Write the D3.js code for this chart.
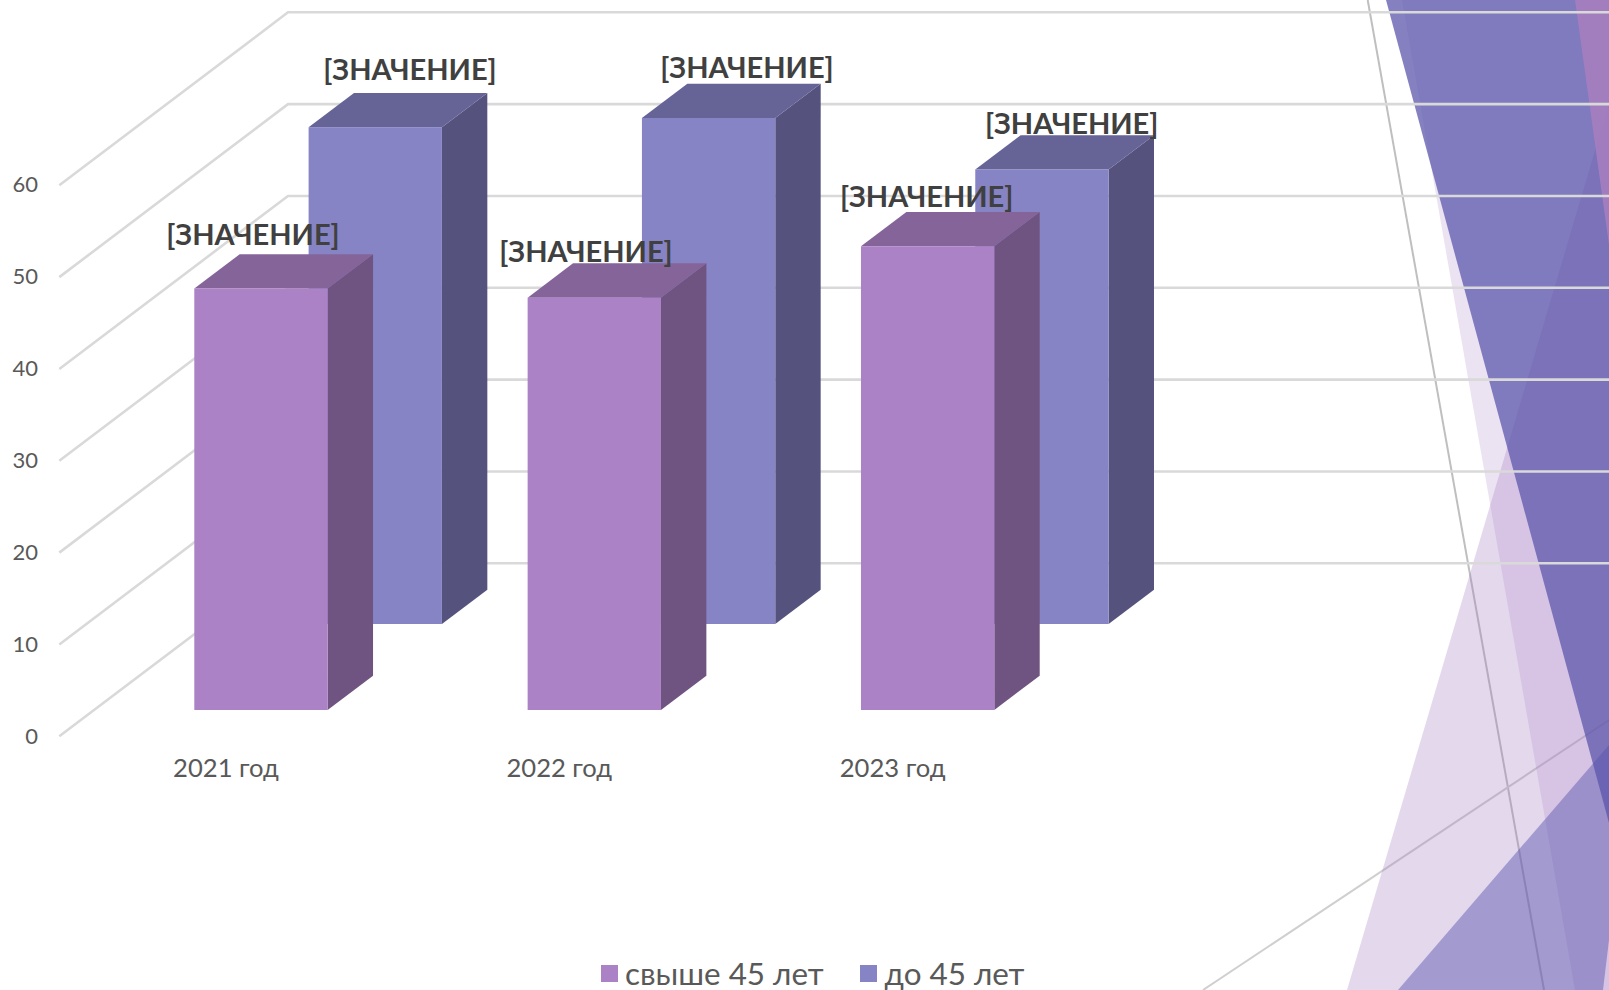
<!DOCTYPE html>
<html lang="ru"><head><meta charset="utf-8">
<script src="https://cdn.jsdelivr.net/npm/d3@7"></script>
<style>
html,body{margin:0;padding:0;background:#fff}
svg{display:block}
text{font-family:Lato,"Noto Sans",sans-serif}
</style></head><body>
<svg id="c" width="1609" height="990"></svg>
<script>
const categories = ["2021 год","2022 год","2023 год"];
const over45 = [45.9,44.9,50.5];
const under45 = [54.1,55.1,49.5];
const seriesNames = ["свыше 45 лет","до 45 лет"];
const valueTicks = [0,10,20,30,40,50,60];
const labelText = "[ЗНАЧЕНИЕ]";

const W=1609,H=990;
const FONT='Lato,"Noto Sans",sans-serif';
const svg=d3.select("#c");

// decorative slide background
const deco=svg.append("g");
const poly=(pts,fill,op)=>deco.append("polygon").attr("points",pts.join(" ")).attr("fill",fill).attr("fill-opacity",op);
const ln=(a,b,col,w)=>deco.append("line").attr("x1",a[0]).attr("y1",a[1]).attr("x2",b[0]).attr("y2",b[1]).attr("stroke",col).attr("stroke-width",w);
ln([1367.7,0],[1544,990],"#bfbfbf",2);
ln([1203,990],[1609,720],"#cfcfcf",2);
poly([[1609,103],[1347,990],[1609,990]],"rgb(167,127,196)",0.3);
poly([[1402,0],[1609,0],[1609,990],[1575,990]],"rgb(167,127,196)",0.216);
poly([[1386,0],[1609,0],[1609,823]],"rgb(92,87,172)",0.75);
poly([[1575,0],[1609,0],[1609,245]],"rgb(168,127,192)",0.85);
poly([[1398,990],[1609,745],[1609,940],[1603,990]],"rgb(89,84,175)",0.47);

// scales
const x=d3.scaleBand().domain(categories).range([194.3,994.3]).paddingInner(0.6).paddingOuter(0);
const v=d3.scaleLinear().domain([0,60]).range([0,-551]);
const bw=x.bandwidth();
// depth axis: 0 = front floor edge, 1 = back wall
const dx=d3.scaleLinear().domain([0,1]).range([59.3,288]);
const dy=d3.scaleLinear().domain([0,1]).range([736.3,563.3]);

// gridlines
const grid=svg.append("g").attr("stroke","#d9d9d9").attr("stroke-width",2.6).attr("fill","none");
valueTicks.forEach(t=>{
  grid.append("path").attr("d",d3.line()([
    [dx(0),dy(0)+v(t)],[dx(1),dy(1)+v(t)],[W,dy(1)+v(t)]]));
});

// bars
const depth=[45.4,-34.3];
const series=[
 {name:seriesNames[1],vals:under45,ox:114.3,base:624,face:"#8784c6",side:"#56527e",top:"#666397",labY:[79.5,78,133.5]},
 {name:seriesNames[0],vals:over45,ox:0,base:710,face:"#ab82c5",side:"#6f5380",top:"#85649a",labY:[245,262,206.5]}
];
const labelCx=[[410,747,1071.7],[253,586,926.7]];
const bars=svg.append("g");
series.forEach(s=>{
  const g=bars.append("g");
  categories.forEach((c,i)=>{
    const x0=x(c)+s.ox,x1=x0+bw,b=s.base,t=b+v(s.vals[i]);
    const [ddx,ddy]=depth;
    g.append("polygon").attr("fill",s.side).attr("points",[[x1,b],[x1+ddx,b+ddy],[x1+ddx,t+ddy],[x1,t]].join(" "));
    g.append("polygon").attr("fill",s.top).attr("points",[[x0,t],[x1,t],[x1+ddx,t+ddy],[x0+ddx,t+ddy]].join(" "));
    g.append("rect").attr("fill",s.face).attr("x",x0).attr("y",t).attr("width",bw).attr("height",b-t);
  });
});

// axes
const valueAxis=d3.axisLeft(d3.scaleLinear().domain([0,60]).range([736.3,184.3])).tickValues(valueTicks).tickSize(0).tickPadding(0).tickFormat(d3.format("d"));
const ga=svg.append("g").attr("transform","translate(38,0)").call(valueAxis);
ga.select(".domain").remove();
ga.selectAll("text").attr("font-size",22).attr("fill","#595959").style("font-family",FONT);
const catAxis=d3.axisBottom(x).tickSize(0).tickPadding(0);
const gc=svg.append("g").attr("transform","translate(-35,759)").call(catAxis);
gc.select(".domain").remove();
gc.selectAll("text").attr("font-size",25.6).attr("fill","#595959").style("font-family",FONT);

// data labels
const lg=svg.append("g");
series.forEach((s,si)=>{
  categories.forEach((c,i)=>{
    lg.append("text").attr("x",labelCx[si][i]).attr("y",s.labY[i]).attr("text-anchor","middle")
      .attr("font-size",29).attr("font-weight",700).attr("fill","#404040").text(labelText);
  });
});

// legend
const leg=svg.append("g");
[[601,625,"#ab82c5"],[860,884.5,"#8784c6"]].forEach((d,i)=>{
  leg.append("rect").attr("x",d[0]).attr("y",965).attr("width",17).attr("height",17).attr("fill",d[2]);
  leg.append("text").attr("x",d[1]).attr("y",984.5).attr("font-size",31.4).attr("fill","#595959").text(seriesNames[i]);
});
</script></body></html>
